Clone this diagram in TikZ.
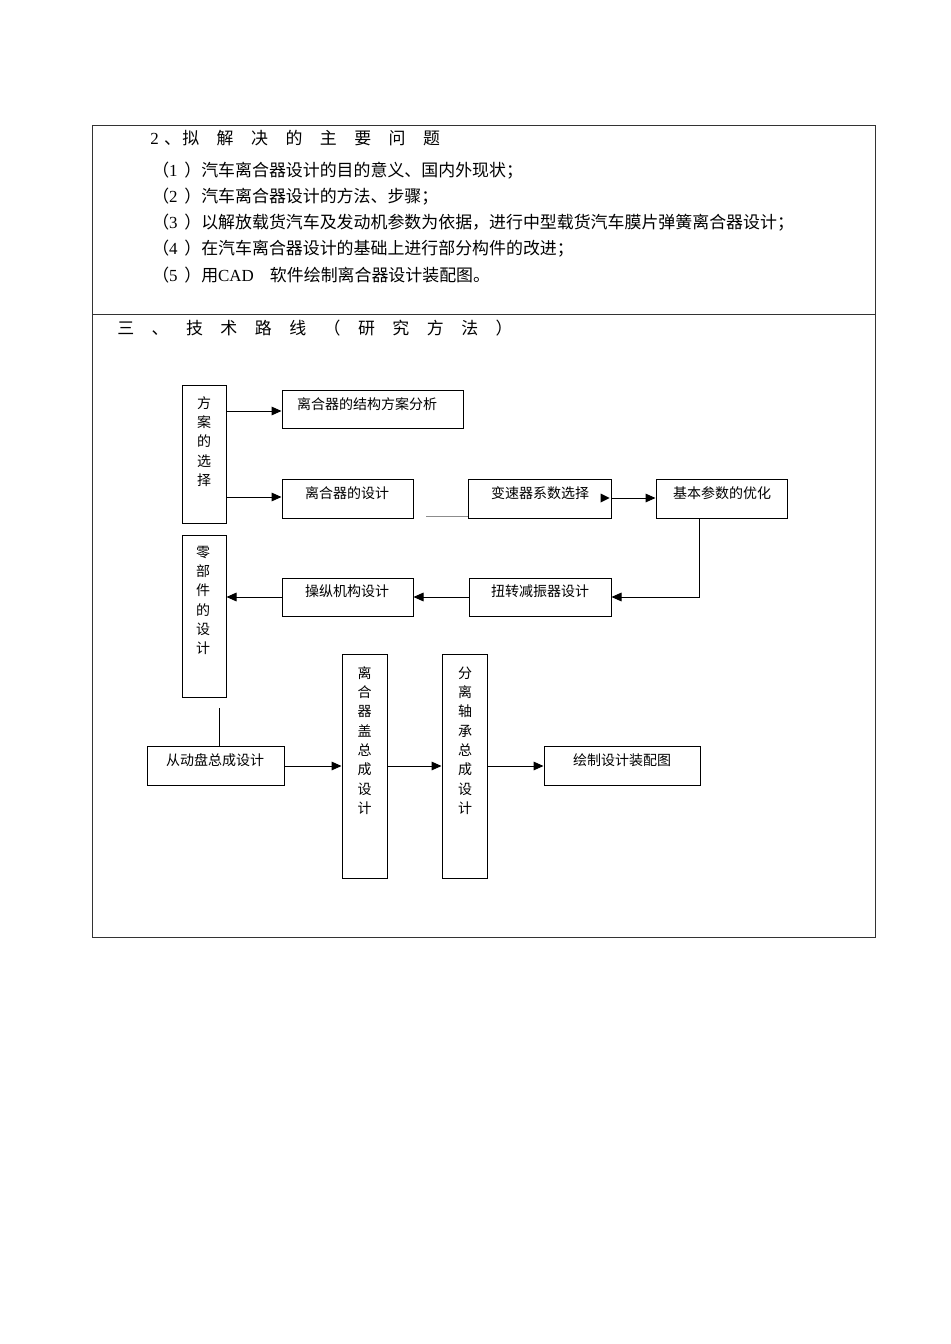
\documentclass[tikz,border=0pt]{standalone}
\usepackage{fontspec}
\setmainfont{Liberation Serif}
\newfontfamily\cjk{Noto Sans CJK SC}
\usetikzlibrary{fit,arrows.meta,calc}
\def\ls#1{\ifx#1\relax\else #1\hspace{13.1pt}\expandafter\ls\fi}
\tikzset{
  frame/.style={draw=black!80, line width=0.7pt},
  box/.style={draw=black, line width=0.75pt, inner sep=0pt},
  btext/.style={font=\cjk\fontsize{10.5}{14.5}\selectfont, inner sep=0pt, align=center},
  ptext/.style={font=\fontsize{12.7}{15}\selectfont, inner sep=0pt, anchor=west},
  conn/.style={line width=0.75pt, -{Triangle[length=7.5pt,width=6.5pt]}},
  plain/.style={line width=0.75pt},
  faint/.style={line width=0.75pt, draw=black!45}
}
\begin{document}
\begin{tikzpicture}[x=0.75pt,y=-0.75pt]
\useasboundingbox[fill=white] (0,0) rectangle (950,1344);
% table frame
\coordinate (tl) at (92,125);
\coordinate (br) at (875,937);
\draw[frame] (tl) rectangle (br);
\coordinate (sl) at (92,314);
\coordinate (sr) at (875,314);
\draw[frame] (sl) -- (sr);

% section 2 text
\node[ptext] (h2) at (150,138) {2\hspace{4pt}{\cjk 、\hspace{1pt}\ls 拟解决的主要问题\relax}};
\node[ptext] (p1) at (152,171) {{\cjk （}1\hspace{5pt}{\cjk ）汽车离合器设计的目的意义、国内外现状；}};
\node[ptext] (p2) at (152,197) {{\cjk （}2\hspace{5pt}{\cjk ）汽车离合器设计的方法、步骤；}};
\node[ptext] (p3) at (152,223) {{\cjk （}3\hspace{5pt}{\cjk ）以解放载货汽车及发动机参数为依据，进行中型载货汽车膜片弹簧离合器设计；}};
\node[ptext] (p4) at (152,249) {{\cjk （}4\hspace{5pt}{\cjk ）在汽车离合器设计的基础上进行部分构件的改进；}};
\node[ptext] (p5) at (152,275) {{\cjk （}5\hspace{5pt}{\cjk ）用}CAD\hspace{12pt}{\cjk 软件绘制离合器设计装配图。}};
\node[ptext] (h3) at (117,328) {{\cjk \ls 三、技术路线（研究方法）\relax}};

% boxes
\node[box, fit={(182,385)(226,523)}] (A) {};
\node[box, fit={(282,390)(463,428)}] (B) {};
\node[box, fit={(282,479)(413,518)}] (C) {};
\node[box, fit={(468,479)(611,518)}] (D) {};
\node[box, fit={(656,479)(787,518)}] (E) {};
\node[box, fit={(469,578)(611,616)}] (F) {};
\node[box, fit={(282,578)(413,616)}] (G) {};
\node[box, fit={(182,535)(226,697)}] (H) {};
\node[box, fit={(147,746)(284,785)}] (I) {};
\node[box, fit={(342,654)(387,878)}] (J) {};
\node[box, fit={(442,654)(487,878)}] (K) {};
\node[box, fit={(544,746)(700,785)}] (L) {};

% box texts
\node[btext] (tA) at (204,441.5) {方\\案\\的\\选\\择};
\node[btext] (tB) at (367,404) {离合器的结构方案分析};
\node[btext] (tC) at (347,493) {离合器的设计};
\node[btext] (tD) at (540,493) {变速器系数选择};
\node[btext] (tE) at (722,493) {基本参数的优化};
\node[btext] (tF) at (540,591) {扭转减振器设计};
\node[btext] (tG) at (347,591) {操纵机构设计};
\node[btext] (tH) at (203,600.5) {零\\部\\件\\的\\设\\计};
\node[btext] (tI) at (215,760) {从动盘总成设计};
\node[btext] (tJ) at (364.5,740.5) {离\\合\\器\\盖\\总\\成\\设\\计};
\node[btext] (tK) at (465,740.5) {分\\离\\轴\\承\\总\\成\\设\\计};
\node[btext] (tL) at (622,760) {绘制设计装配图};

% connectors
\draw[conn] (A.east |- 0,411) -- (B.west |- 0,411);
\draw[conn] (A.east |- 0,497) -- (C.west |- 0,497);
\coordinate (g1) at (426,516);
\draw[faint] (g1) -- (D.west |- g1);
\draw[conn] (D.east |- 0,498) -- (E.west |- 0,498);
\fill ($(D.east |- 0,498)+(-11,-4.5)$) -- ++(9,4.5) -- ++(-9,4.5) -- cycle;
\draw[conn] (E.south -| 699,0) -- (699,597) -- (F.east |- 0,597);
\draw[conn] (F.west |- 0,597) -- (G.east |- 0,597);
\draw[conn] (G.west |- 0,597) -- (H.east |- 0,597);
\coordinate (h1) at (219,708);
\draw[plain] (h1) -- (I.north -| h1);
\draw[conn] (I.east |- 0,766) -- (J.west |- 0,766);
\draw[conn] (J.east |- 0,766) -- (K.west |- 0,766);
\draw[conn] (K.east |- 0,766) -- (L.west |- 0,766);
\end{tikzpicture}
\end{document}
